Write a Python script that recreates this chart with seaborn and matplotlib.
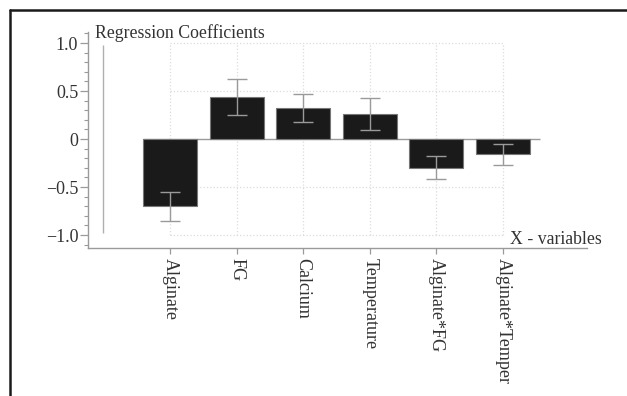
import matplotlib
matplotlib.use("Agg")
import matplotlib.pyplot as plt
import matplotlib.ticker as mticker
from matplotlib.lines import Line2D
import seaborn as sns
import pandas as pd

# data
variables = ["Alginate", "FG", "Calcium", "Temperature", "Alginate*FG", "Alginate*Temper"]
coefficients = [-0.70, 0.44, 0.32, 0.26, -0.30, -0.16]
errors = [0.15, 0.185, 0.145, 0.165, 0.12, 0.11]

df = pd.DataFrame({"variable": variables, "coef": coefficients, "err": errors})

sns.set_style("white")
plt.rcParams["font.family"] = ["Liberation Serif", "DejaVu Serif"]

fig = plt.figure(figsize=(6.27, 3.96), dpi=100)
ax = fig.add_axes([88 / 627, 1 - 248 / 396, (587 - 88) / 627, (248 - 32) / 396])

grey = "#9a9a9a"
grid = "#dcdcdc"
txt = "#333333"

# dotted grid
ax.hlines([1.0, 0.5, -0.5, -1.0], 0, 5, colors=grid, linestyles=":", linewidth=0.9, zorder=0)
ax.vlines(range(len(variables)), -1.0, 1.0, colors=grid, linestyles=":", linewidth=0.9, zorder=0)
ax.vlines(-1, -0.98, 0.98, colors="#b0b0b0", linewidth=1.0, zorder=0)
ax.hlines(0, -0.4, 5.56, colors=grey, linewidth=1.0, zorder=1)

sns.barplot(data=df, x="variable", y="coef", color="#1a1a1a", edgecolor="#777777",
            linewidth=0.8, width=0.81, saturation=1, ax=ax, zorder=2)
ax.errorbar(range(len(variables)), df["coef"], yerr=df["err"], fmt="none",
            ecolor=grey, elinewidth=1.0, capsize=7, capthick=1.0, zorder=3)

ax.set_xlim(-1.23, 6.26)
ax.set_ylim(-1.135, 1.115)
ax.set_xlabel("")
ax.set_ylabel("")

for side in ["top", "right"]:
    ax.spines[side].set_visible(False)
for side in ["left", "bottom"]:
    ax.spines[side].set_color(grey)
    ax.spines[side].set_linewidth(1.0)

ax.set_yticks([-1.0, -0.5, 0, 0.5, 1.0])
ax.yaxis.set_minor_locator(mticker.MultipleLocator(0.1))
ax.yaxis.set_major_formatter(mticker.FuncFormatter(
    lambda v, p: "0" if abs(v) < 1e-9 else f"{v:.1f}".replace("-", "\u2212")))
ax.tick_params(axis="y", which="major", length=6, width=0.9, color=grey,
               labelsize=13, pad=1, left=True)
ax.tick_params(axis="y", which="minor", length=3, width=0.8, color=grey, left=True)
ax.tick_params(axis="x", length=4, width=0.9, color=grey, labelsize=13,
               bottom=True, pad=3)
plt.setp(ax.get_xticklabels(), rotation=270, ha="center", va="top", color=txt)
plt.setp(ax.get_yticklabels(), color=txt)

ax.text(-1.13, 1.05, "Regression Coefficients", fontsize=12.8, color=txt,
        ha="left", va="baseline")
ax.text(5.1, -1.09, "X - variables", fontsize=12.8, color=txt,
        ha="left", va="baseline")

# cropped frame of the original figure: top and left only
fig.add_artist(Line2D([10 / 627, 1], [1 - 10 / 396, 1 - 10 / 396], color="#1a1a1a", linewidth=1.8))
fig.add_artist(Line2D([10 / 627, 10 / 627], [0, 1 - 10 / 396], color="#1a1a1a", linewidth=1.8))

fig.savefig("out.png", dpi=100)
